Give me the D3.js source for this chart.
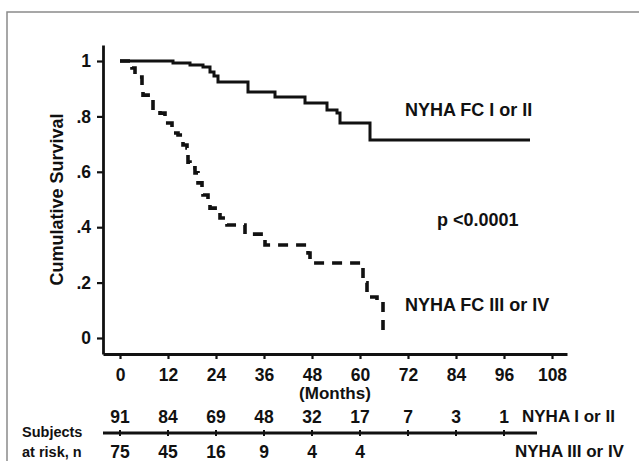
<!DOCTYPE html>
<html>
<head>
<meta charset="utf-8">
<script src="https://cdn.jsdelivr.net/npm/d3@7"></script>
<style>
  body { margin: 0; background: #fff; }
  svg text { font-family: "Liberation Sans", Arial, Helvetica, sans-serif; font-weight: bold; fill: #111; }
</style>
</head>
<body>
<div id="chart"></div>
<script>
/* DATA */
// NYHA FC I or II (solid)
const upperMonths = [0, 13.25, 17.5, 20.75, 22.5, 23.5, 24.5, 32, 38.75, 46.25, 51.75, 54.25, 55, 62.5, 102.5];
const upperSurv   = [1, 0.993, 0.986, 0.978, 0.96, 0.946, 0.924, 0.888, 0.87, 0.848, 0.823, 0.812, 0.776, 0.715, 0.715];

// NYHA FC III or IV (dashed)
const lowerMonths = [0, 3, 3.75, 5.5, 5.75, 7.5, 8.25, 10, 11.25, 13, 14.5, 15.75, 16.75, 17, 17.5, 18.75, 19.5,
  20.5, 20.75, 22, 22.5, 24.25, 25, 26.75, 31.25, 35.75, 36.25, 47, 47.5, 60.75, 61.75, 64.25, 65.75];
const lowerSurv   = [1, 0.975, 0.942, 0.906, 0.877, 0.866, 0.823, 0.812, 0.776, 0.74, 0.733, 0.697, 0.686, 0.635, 0.614, 0.596, 0.56,
  0.542, 0.516, 0.498, 0.469, 0.455, 0.433, 0.408, 0.375, 0.365, 0.336, 0.307, 0.271, 0.199, 0.148, 0.137, 0];

const xTicks = [0, 12, 24, 36, 48, 60, 72, 84, 96, 108];
const yTicks = [0, 0.2, 0.4, 0.6, 0.8, 1];
const yTickLabels = ["0", ".2", ".4", ".6", ".8", "1"];

// subjects at risk
const riskMonths = [0, 12, 24, 36, 48, 60, 72, 84, 96];
const riskUpper = [91, 84, 69, 48, 32, 17, 7, 3, 1];
const riskLower = [75, 45, 16, 9, 4, 4];

/* CONSTANTS */
const width = 639, height = 461;

const svg = d3.select("#chart").append("svg")
  .attr("width", width)
  .attr("height", height);

svg.append("rect").attr("width", width).attr("height", height).attr("fill", "#fff");

// frame of the figure
svg.append("rect")
  .attr("x", 7).attr("y", 12)
  .attr("width", 700).attr("height", 500)
  .attr("fill", "none")
  .attr("stroke", "#8a8a8a")
  .attr("stroke-width", 1.5);

/* SCALES */
const xScale = d3.scaleLinear().domain([-4.25, 111.75]).range([103, 567]);
const yScale = d3.scaleLinear().domain([-0.0578, 1.0578]).range([354, 45]);

/* AXES */
const xAxis = d3.axisBottom(xScale)
  .tickValues(xTicks)
  .tickFormat(d3.format("d"))
  .tickSizeInner(5).tickSizeOuter(0).tickPadding(10);

const yAxis = d3.axisLeft(yScale)
  .tickValues(yTicks)
  .tickFormat((d, i) => yTickLabels[i])
  .tickSizeInner(6).tickSizeOuter(0).tickPadding(6);

const gx = svg.append("g").attr("transform", `translate(0,${yScale.range()[0]})`).call(xAxis);
const gy = svg.append("g").attr("transform", `translate(${xScale.range()[0]},0)`).call(yAxis);

[gx, gy].forEach(g => {
  g.select(".domain").attr("stroke", "#111").attr("stroke-width", 2.8);
  g.selectAll(".tick line").attr("stroke", "#111").attr("stroke-width", 2.2);
  g.selectAll(".tick text").attr("font-size", 17.5).attr("fill", "#111")
    .attr("font-family", "Liberation Sans, Arial, sans-serif").attr("font-weight", "bold");
});

svg.append("text")
  .attr("x", 335).attr("y", 393)
  .attr("text-anchor", "middle").attr("dominant-baseline", "central")
  .attr("font-size", 17)
  .text("(Months)");

svg.append("text")
  .attr("transform", `translate(57,${yScale(0.5)}) rotate(-90)`)
  .attr("text-anchor", "middle").attr("dominant-baseline", "central")
  .attr("font-size", 18)
  .text("Cumulative Survival");

/* CURVES */
const line = d3.line()
  .x(d => xScale(d[0]))
  .y(d => yScale(d[1]))
  .curve(d3.curveStepAfter);

svg.append("path")
  .datum(d3.zip(lowerMonths, lowerSurv))
  .attr("d", line)
  .attr("fill", "none")
  .attr("stroke", "#111")
  .attr("stroke-width", 3.6)
  .attr("stroke-dasharray", "10,8");

svg.append("path")
  .datum(d3.zip(upperMonths, upperSurv))
  .attr("d", line)
  .attr("fill", "none")
  .attr("stroke", "#111")
  .attr("stroke-width", 3);

/* ANNOTATIONS */
svg.append("text").attr("x", 405).attr("y", 110)
  .attr("dominant-baseline", "central").attr("font-size", 18)
  .text("NYHA FC I or II");
svg.append("text").attr("x", 437).attr("y", 220)
  .attr("dominant-baseline", "central").attr("font-size", 18)
  .text("p <0.0001");
svg.append("text").attr("x", 405).attr("y", 305)
  .attr("dominant-baseline", "central").attr("font-size", 18)
  .text("NYHA FC III or IV");

/* RISK TABLE */
const riskLineY = 433;
svg.append("line")
  .attr("x1", xScale.range()[0]).attr("x2", xScale(104.25))
  .attr("y1", riskLineY).attr("y2", riskLineY)
  .attr("stroke", "#111").attr("stroke-width", 2.8);

svg.selectAll(".risk-tick")
  .data(riskMonths)
  .join("line")
  .attr("class", "risk-tick")
  .attr("x1", d => xScale(d)).attr("x2", d => xScale(d))
  .attr("y1", riskLineY - 3).attr("y2", riskLineY + 3)
  .attr("stroke", "#111").attr("stroke-width", 2);

svg.selectAll(".risk-up")
  .data(riskUpper)
  .join("text")
  .attr("class", "risk-up")
  .attr("x", (d, i) => xScale(riskMonths[i]))
  .attr("y", 417)
  .attr("text-anchor", "middle").attr("dominant-baseline", "central")
  .attr("font-size", 17.5)
  .text(d => d);

svg.selectAll(".risk-low")
  .data(riskLower)
  .join("text")
  .attr("class", "risk-low")
  .attr("x", (d, i) => xScale(riskMonths[i]))
  .attr("y", 452)
  .attr("text-anchor", "middle").attr("dominant-baseline", "central")
  .attr("font-size", 17.5)
  .text(d => d);

svg.append("text").attr("x", 522).attr("y", 416)
  .attr("dominant-baseline", "central").attr("font-size", 17)
  .text("NYHA I or II");
svg.append("text").attr("x", 515).attr("y", 451)
  .attr("dominant-baseline", "central").attr("font-size", 17)
  .text("NYHA III or IV");

svg.append("text").attr("x", 22).attr("y", 432)
  .attr("dominant-baseline", "central").attr("font-size", 14.5)
  .text("Subjects");
svg.append("text").attr("x", 22).attr("y", 452)
  .attr("dominant-baseline", "central").attr("font-size", 14.5)
  .text("at risk, n");
</script>
</body>
</html>
